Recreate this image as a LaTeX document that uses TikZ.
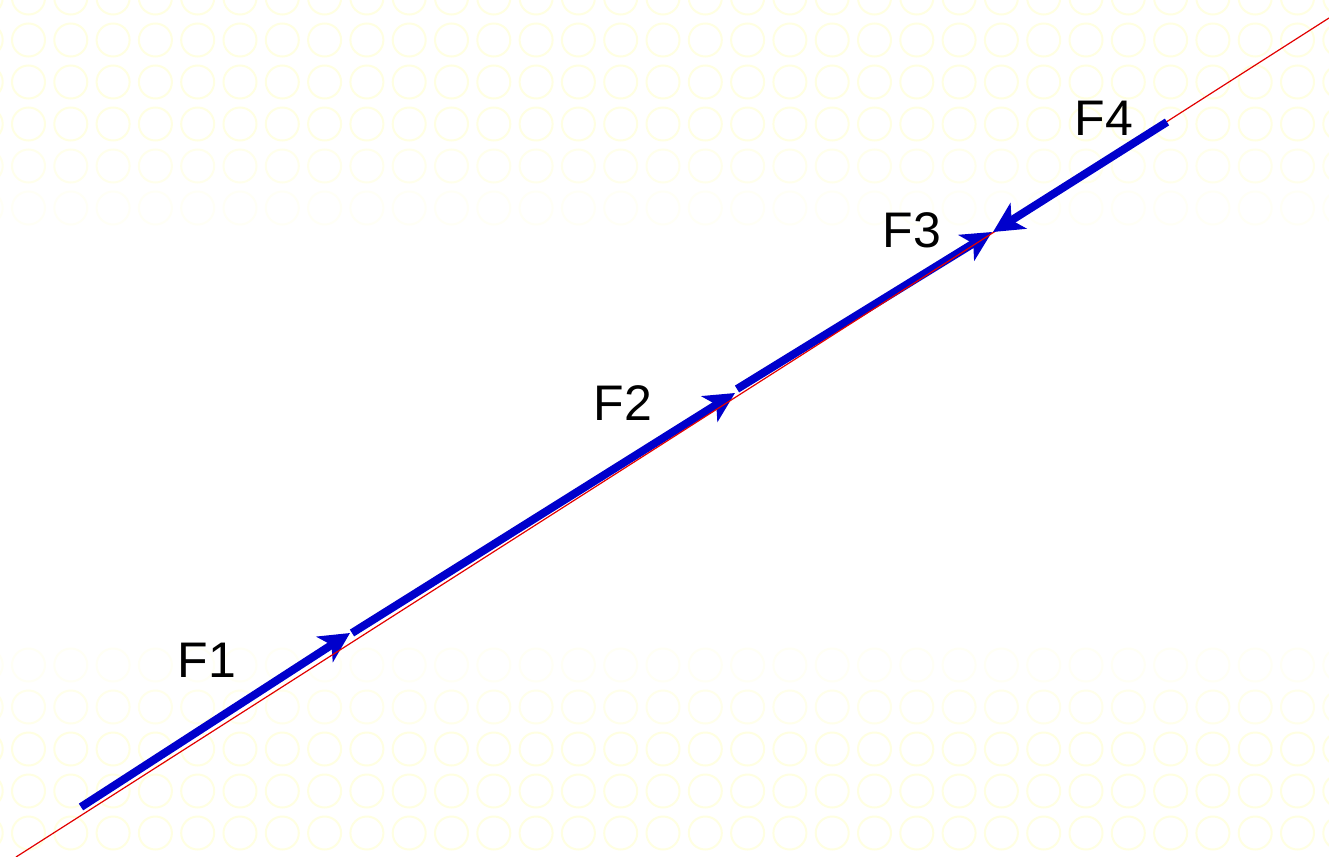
\documentclass[tikz,border=0pt]{standalone}
\usepackage{fontspec}
\setmainfont{Liberation Sans}
\usetikzlibrary{arrows.meta}
\definecolor{circ}{RGB}{255,255,226}
\definecolor{forceblue}{RGB}{0,0,204}
\definecolor{axisred}{RGB}{226,0,0}
\begin{document}
\begin{tikzpicture}[x=0.5pt,y=-0.5pt,
  force/.style={draw=forceblue,fill=forceblue,line width=4pt,
    -{Stealth[length=15pt,width=15pt,inset=4pt]}},
  axis/.style={draw=axisred,line width=0.6pt},
  lbl/.style={anchor=base,inner sep=0pt,font=\fontsize{25}{30}\selectfont},
  ring/.style={line width=1pt}]
\useasboundingbox (0,0) rectangle (1329,857);
\clip (0,0) rectangle (1329,857);
\fill[white] (0,0) rectangle (1329,857);
% faded ring pattern, top band
\foreach \j in {0,...,6}{
  \pgfmathsetmacro\yy{-2+42*\j}
  \pgfmathtruncatemacro\p{max(0,min(100,(250-\yy)/1.3))}
  \foreach \k in {-1,...,31}{
    \draw[ring,draw=circ!\p!white] (28.5+42.3*\k,\yy) circle[radius=8.25pt];
  }
}
% faded ring pattern, bottom band
\foreach \j in {0,...,6}{
  \pgfmathsetmacro\yy{833-42*\j}
  \pgfmathtruncatemacro\p{max(0,min(100,(\yy-625)/1.2))}
  \foreach \k in {-1,...,31}{
    \draw[ring,draw=circ!\p!white] (28.5+42.3*\k,\yy) circle[radius=8.25pt];
  }
}
% points
\coordinate (r1) at (16,857);
\coordinate (r2) at (1329,18);
\coordinate (a1) at (81,807);
\coordinate (b1) at (350,633);
\coordinate (a2) at (352,633);
\coordinate (b2) at (735,393);
\coordinate (a3) at (737,389);
\coordinate (b3) at (992,232);
\coordinate (a4) at (1167,122);
\coordinate (b4) at (993,232);
% forces
\draw[force] (a1) -- (b1);
\draw[force] (a2) -- (b2);
\draw[force] (a3) -- (b3);
% line of action
\draw[axis] (r1) -- (r2);
\draw[force] (a4) -- (b4);
% labels
\node[lbl] (l1) at (207,677) {F1};
\node[lbl] (l2) at (623,420) {F2};
\node[lbl] (l3) at (912,247) {F3};
\node[lbl] (l4) at (1104,135) {F4};
\end{tikzpicture}
\end{document}
